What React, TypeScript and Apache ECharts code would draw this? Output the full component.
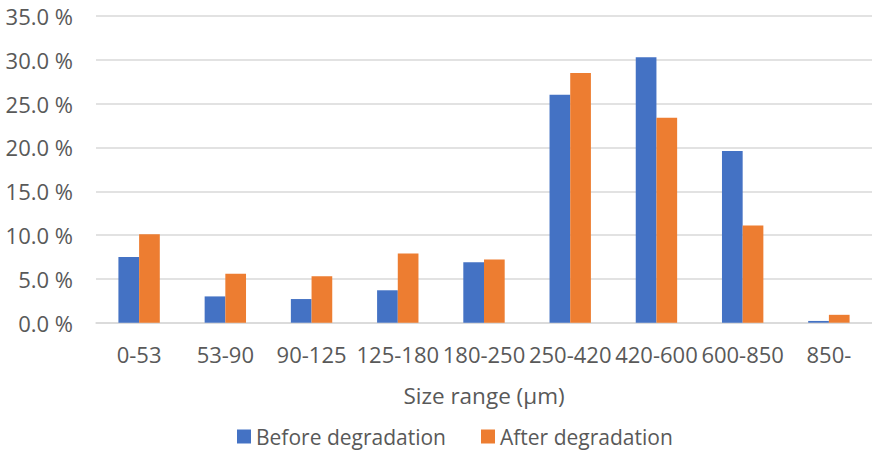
import React, { useEffect, useRef } from "react";
import * as echarts from "echarts";

// Size fractions (µm) and share of total mass (%)
const sizeRanges = ["0-53", "53-90", "90-125", "125-180", "180-250", "250-420", "420-600", "600-850", "850-"];
const beforeDegradation = [7.5, 3.0, 2.7, 3.7, 6.9, 26.0, 30.3, 19.6, 0.2];
const afterDegradation = [10.1, 5.6, 5.3, 7.9, 7.2, 28.5, 23.4, 11.1, 0.9];
const seriesNames = ["Before degradation", "After degradation"];

const FONT = "Open Sans";
const TEXT = "#595959";
const GRID = "#D9D9D9";

export default function App() {
  const ref = useRef<HTMLDivElement>(null);

  useEffect(() => {
    if (!ref.current) return;
    const chart = echarts.init(ref.current, null, { renderer: "svg" });
    chart.setOption({
      animation: false,
      backgroundColor: "#ffffff",
      textStyle: { fontFamily: FONT, color: TEXT },
      grid: { left: 96, right: -7.5, top: 16, bottom: 129.3, containLabel: false },
      legend: {
        left: 237,
        top: 426,
        padding: 0,
        itemWidth: 14,
        itemHeight: 14,
        itemGap: 35,
        icon: "rect",
        textStyle: { fontFamily: FONT, fontSize: 21, color: TEXT },
        data: seriesNames,
      },
      xAxis: {
        type: "category",
        data: sizeRanges,
        name: "Size range (µm)",
        nameLocation: "middle",
        nameGap: 61,
        nameTextStyle: { fontFamily: FONT, fontSize: 22.5, color: TEXT },
        axisLine: { lineStyle: { color: GRID, width: 1.5 } },
        axisTick: { show: false },
        axisLabel: { fontFamily: FONT, fontSize: 22, color: TEXT, margin: 20, interval: 0 },
      },
      yAxis: {
        type: "value",
        min: 0,
        max: 35,
        interval: 5,
        axisLine: { show: false },
        axisTick: { show: false },
        splitLine: { lineStyle: { color: GRID, width: 1.5 } },
        axisLabel: {
          fontFamily: FONT,
          fontSize: 22,
          color: TEXT,
          margin: 23,
          formatter: (v: number) => v.toFixed(1) + " %",
        },
      },
      series: [
        {
          name: seriesNames[0],
          type: "bar",
          data: beforeDegradation,
          barGap: "0%",
          barCategoryGap: "52%",
          itemStyle: { color: "#4472C4" },
        },
        {
          name: seriesNames[1],
          type: "bar",
          data: afterDegradation,
          barGap: "0%",
          barCategoryGap: "52%",
          itemStyle: { color: "#ED7D31" },
        },
      ],
    });
    return () => chart.dispose();
  }, []);

  return (
    <div
      ref={ref}
      style={{ position: "fixed", left: 0, top: 0, width: 872, height: 452 }}
    />
  );
}
